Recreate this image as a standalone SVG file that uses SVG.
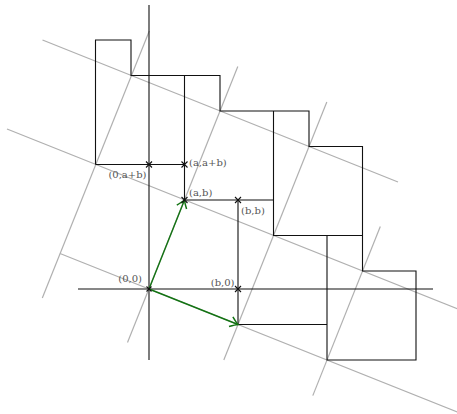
<svg xmlns="http://www.w3.org/2000/svg" width="457" height="414" viewBox="0 0 457 414">
<defs>
<style>
.grid{stroke:#b0b0b0;stroke-width:1.2;fill:none}
.sq{stroke:#111;stroke-width:1.1;fill:none}
.ax{stroke:#111;stroke-width:1.1;fill:none}
.vec{stroke:#137313;stroke-width:1.4;fill:none}
.mark{stroke:#111;stroke-width:1.1;fill:none}
.lbl{font-family:"DejaVu Serif","Liberation Serif",serif;font-size:10px;fill:#555}
</style>
<marker id="tip" markerUnits="userSpaceOnUse" markerWidth="14" markerHeight="14" viewBox="-8 -6 10 12" refX="0" refY="0" orient="auto">
<path d="M-6.5,-4.5 Q-2,-1 0,0 Q-2,1 -6.5,4.5" stroke="#137313" stroke-width="1.3" fill="none"/>
</marker>
</defs>
<g id="grid-lines">
<line class="grid" x1="42.5" y1="40" x2="398" y2="182"/>
<line class="grid" x1="7" y1="129" x2="460" y2="309.8"/>
<line class="grid" x1="60" y1="253.5" x2="460" y2="413.1"/>
<line class="grid" x1="42.3" y1="298" x2="149.3" y2="31"/>
<line class="grid" x1="127.5" y1="342.5" x2="237.8" y2="66.5"/>
<line class="grid" x1="223.8" y1="360" x2="326.8" y2="102"/>
<line class="grid" x1="312.8" y1="395.6" x2="380.3" y2="226.5"/>
</g>
<g id="axes">
<line class="ax" x1="149" y1="5" x2="149" y2="360"/>
<line class="ax" x1="78" y1="289" x2="433" y2="289"/>
</g>
<g id="squares">
<path class="sq" d="M95.5,164.5 V40 H131 V75.5 H220 V111 H309 V146.5 H362.5 V271 H416 V360 H327 V235.5"/>
<path class="sq" d="M184.5,75.5 V200 H273.5"/>
<path class="sq" d="M273.5,111 V235.5 H362.5"/>
<path class="sq" d="M238,200 V324.5 H327"/>
<path class="sq" d="M95.5,164.5 H184.5"/>
</g>
<g id="connectors">
<line class="vec" x1="149" y1="289" x2="184.5" y2="200" marker-end="url(#tip)"/>
<line class="vec" x1="149" y1="289" x2="238" y2="324.5" marker-end="url(#tip)"/>
</g>
<g id="marks">
<path class="mark" d="M146,161.5 l6,6 M152,161.5 l-6,6"/>
<path class="mark" d="M181.5,161.5 l6,6 M187.5,161.5 l-6,6"/>
<path class="mark" d="M181.5,197 l6,6 M187.5,197 l-6,6"/>
<path class="mark" d="M235,197 l6,6 M241,197 l-6,6"/>
<path class="mark" d="M235,286 l6,6 M241,286 l-6,6"/>
<path class="mark" d="M146.5,286.5 l5,5 M151.5,286.5 l-5,5"/>
</g>
<g id="labels">
<text class="lbl" x="146.5" y="178" text-anchor="end">(0,a+b)</text>
<text class="lbl" x="189" y="165.5">(a,a+b)</text>
<text class="lbl" x="189" y="195.5">(a,b)</text>
<text class="lbl" x="241" y="214">(b,b)</text>
<text class="lbl" x="234.5" y="285.5" text-anchor="end">(b,0)</text>
<text class="lbl" x="142" y="282" text-anchor="end">(0,0)</text>
</g>
</svg>
